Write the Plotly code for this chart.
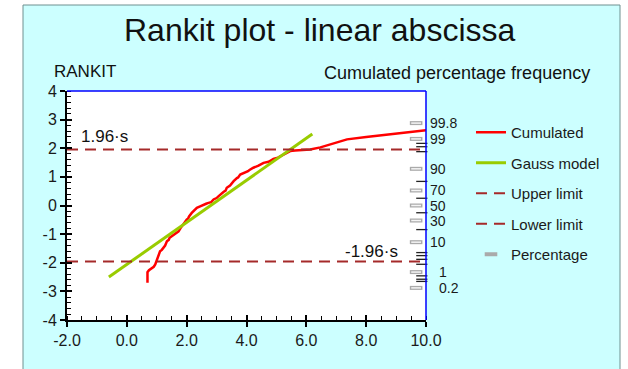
from statistics import NormalDist
import plotly.graph_objects as go

# ---- data -------------------------------------------------------------
cum_x = [0.69, 0.69, 0.74, 0.82, 0.90, 0.95, 1.00, 1.05, 1.11, 1.17, 1.22, 1.28,
         1.34, 1.40, 1.43, 1.50, 1.56, 1.64, 1.73, 1.79, 1.84, 1.92, 2.00, 2.05,
         2.08, 2.17, 2.25, 2.34, 2.45, 2.56, 2.65, 2.73, 2.82, 2.90, 3.00, 3.06,
         3.12, 3.23, 3.30, 3.34, 3.45, 3.50, 3.57, 3.68, 3.72, 3.79, 3.90, 4.05,
         4.10, 4.23, 4.40, 4.57, 4.74, 4.90, 5.05, 5.18, 5.32, 5.46, 5.62, 5.80,
         6.13, 6.47, 6.80, 7.05, 7.36, 8.00, 8.70, 9.40, 10.00]
cum_y = [-2.70, -2.33, -2.26, -2.20, -2.14, -2.06, -1.89, -1.76, -1.60, -1.55,
         -1.48, -1.40, -1.25, -1.20, -1.13, -1.08, -1.01, -0.97, -0.90, -0.80,
         -0.72, -0.62, -0.49, -0.45, -0.38, -0.26, -0.16, -0.08, -0.03, 0.03,
         0.06, 0.09, 0.12, 0.21, 0.26, 0.32, 0.38, 0.47, 0.52, 0.62, 0.70, 0.78,
         0.85, 0.96, 0.98, 1.08, 1.12, 1.20, 1.24, 1.32, 1.39, 1.49, 1.53, 1.63,
         1.67, 1.75, 1.83, 1.90, 1.92, 1.93, 1.96, 2.03, 2.13, 2.21, 2.31, 2.39,
         2.48, 2.56, 2.63]

gauss_x = [-0.6, 6.2]
gauss_y = [-2.5, 2.5]

limit_x = [-2.0, 10.0]
upper_y = 1.96
lower_y = -1.96

x_ticks = [-2.0, 0.0, 2.0, 4.0, 6.0, 8.0, 10.0]
y_ticks = [-4, -3, -2, -1, 0, 1, 2, 3, 4]

pct_labeled = [99.8, 99, 90, 70, 50, 30, 10, 1, 0.2]
pct_label_text = ["99.8", "99", "90", "70", "50", "30", "10", "1", "0.2"]
pct_minor = [98.5, 98, 97, 80, 60, 40, 20, 5, 4, 3, 2, 0.7, 0.5, 0.4]

# ---- geometry helpers (pixel layout of the 628x369 page) ----------------
W, H = 628, 369
ML, MR, MT, MB = 67, 202, 91, 49
PW, PH = W - ML - MR, H - MT - MB


def px(xp):
    return (xp - ML) / PW


def py(yp):
    return (H - MB - yp) / PH


FONT = "Liberation Sans, Arial, sans-serif"
TXT = "#1a1a1a"
LIMIT_COL = "#A52A2A"

nd = NormalDist()
z_lab = [nd.inv_cdf(p / 100) for p in pct_labeled]
z_min = [nd.inv_cdf(p / 100) for p in pct_minor]

fig = go.Figure()

fig.add_trace(go.Scatter(x=cum_x, y=cum_y, mode="lines", name="Cumulated",
                         line=dict(color="#FF0000", width=2.5),
                         legendgroup="a"))
fig.add_trace(go.Scatter(x=gauss_x, y=gauss_y, mode="lines", name="Gauss model",
                         line=dict(color="#99CC00", width=3),
                         legendgroup="b"))
fig.add_trace(go.Scatter(x=limit_x, y=[upper_y, upper_y], mode="lines",
                         name="Upper limit",
                         line=dict(color=LIMIT_COL, width=2, dash="11px,7px"),
                         legendgroup="c"))
fig.add_trace(go.Scatter(x=limit_x, y=[lower_y, lower_y], mode="lines",
                         name="Lower limit",
                         line=dict(color=LIMIT_COL, width=2, dash="11px,7px"),
                         legendgroup="d"))

# percentage scale marks along the right axis
x_pct = 9.67
fig.add_trace(go.Scatter(x=[x_pct] * len(z_lab), y=z_lab, mode="markers",
                         name="Percentage",
                         marker=dict(symbol="line-ew", size=9,
                                     line=dict(color="#aaaaaa", width=4)),
                         legendgroup="e", cliponaxis=False))
fig.add_trace(go.Scatter(x=[x_pct] * len(z_lab), y=z_lab, mode="markers",
                         showlegend=False, hoverinfo="skip",
                         marker=dict(symbol="line-ew", size=7,
                                     line=dict(color="#f4f4f4", width=1.5)),
                         cliponaxis=False))
fig.add_trace(go.Scatter(x=[9.86] * len(z_min), y=z_min, mode="markers",
                         showlegend=False, hoverinfo="skip",
                         marker=dict(symbol="line-ew", size=8,
                                     line=dict(color="#222222", width=1.3)),
                         cliponaxis=False))

shapes = [
    # cyan panel
    dict(type="rect", xref="paper", yref="paper", layer="below",
         x0=px(23), x1=px(620), y0=py(380), y1=py(5),
         fillcolor="#CCFFFF", line=dict(color="#6f9090", width=1)),
    # white plotting area
    dict(type="rect", xref="paper", yref="paper", layer="below",
         x0=0, x1=1, y0=0, y1=1, fillcolor="#FFFFFF", line=dict(width=0)),
    # blue frame on top and right
    dict(type="line", xref="paper", yref="paper", x0=0, x1=1, y0=1, y1=1,
         line=dict(color="#0000FF", width=1.5)),
    dict(type="line", xref="paper", yref="paper", x0=1, x1=1, y0=0, y1=1,
         line=dict(color="#0000FF", width=1.5)),
]

annotations = [
    dict(text="Rankit plot - linear abscissa", xref="paper", yref="paper",
         x=px(319), y=py(30), showarrow=False, xanchor="center",
         yanchor="middle", font=dict(family=FONT, size=32, color="#111")),
    dict(text="RANKIT", xref="paper", yref="paper", x=px(52), y=py(71),
         showarrow=False, xanchor="left", yanchor="middle",
         font=dict(family=FONT, size=17, color="#111")),
    dict(text="Cumulated percentage frequency", xref="paper", yref="paper",
         x=px(322), y=py(73), showarrow=False, xanchor="left",
         yanchor="middle", font=dict(family=FONT, size=18, color="#111")),
    dict(text="1.96·s", x=-1.6, y=2.41, xref="x", yref="y", showarrow=False,
         xanchor="left", yanchor="middle",
         font=dict(family=FONT, size=17, color="#111")),
    dict(text="-1.96·s", x=7.22, y=-1.6, xref="x", yref="y", showarrow=False,
         xanchor="left", yanchor="middle",
         font=dict(family=FONT, size=17, color="#111")),
]
for z, t in zip(z_lab, pct_label_text):
    shift = 11 if t in ("1", "0.2") else 2
    annotations.append(dict(text=t, x=1, y=z, xref="paper", yref="y",
                            showarrow=False, xanchor="left", yanchor="middle",
                            xshift=shift,
                            font=dict(family=FONT, size=14, color=TXT)))

fig.update_layout(
    width=W, height=H,
    margin=dict(l=ML, r=MR, t=MT, b=MB),
    paper_bgcolor="#FFFFFF", plot_bgcolor="rgba(0,0,0,0)",
    font=dict(family=FONT, color=TXT),
    showlegend=True,
    legend=dict(x=px(471), y=py(116), xanchor="left", yanchor="top",
                bgcolor="rgba(0,0,0,0)", traceorder="grouped",
                tracegroupgap=8, font=dict(family=FONT, size=15, color=TXT)),
    shapes=shapes, annotations=annotations,
    xaxis=dict(range=[-2, 10], tickvals=x_ticks,
               ticktext=[f"{v:.1f}" for v in x_ticks],
               showgrid=False, zeroline=False, showline=True,
               linecolor="#000", linewidth=2, ticks="outside", ticklen=5,
               tickwidth=1.5, tickcolor="#000",
               tickfont=dict(family=FONT, size=16, color=TXT),
               minor=dict(dtick=0.5, ticks="inside", ticklen=4,
                          tickcolor="#000", tickwidth=1.2, showgrid=False)),
    yaxis=dict(range=[-4, 4], tickvals=y_ticks,
               ticktext=[str(v) for v in y_ticks], showgrid=False,
               zeroline=False, showline=True, linecolor="#000", linewidth=2,
               ticks="outside", ticklen=5, tickwidth=1.5, tickcolor="#000",
               tickfont=dict(family=FONT, size=16, color=TXT),
               minor=dict(dtick=0.2, ticks="inside", ticklen=4,
                          tickcolor="#000", tickwidth=1.2, showgrid=False)),
    # overlay axes supply the inner half of each major tick
    xaxis2=dict(range=[-2, 10], overlaying="x", side="bottom",
                tickvals=x_ticks, ticks="inside", ticklen=5, tickwidth=1.5,
                tickcolor="#000", showticklabels=False, showgrid=False,
                zeroline=False, showline=False),
    yaxis2=dict(range=[-4, 4], overlaying="y", side="left",
                tickvals=y_ticks, ticks="inside", ticklen=5, tickwidth=1.5,
                tickcolor="#000", showticklabels=False, showgrid=False,
                zeroline=False, showline=False),
)
# empty trace so the overlay axes are drawn
fig.add_trace(go.Scatter(x=[None], y=[None], xaxis="x2", yaxis="y2",
                         showlegend=False, hoverinfo="skip"))

fig.write_html("out.html")
